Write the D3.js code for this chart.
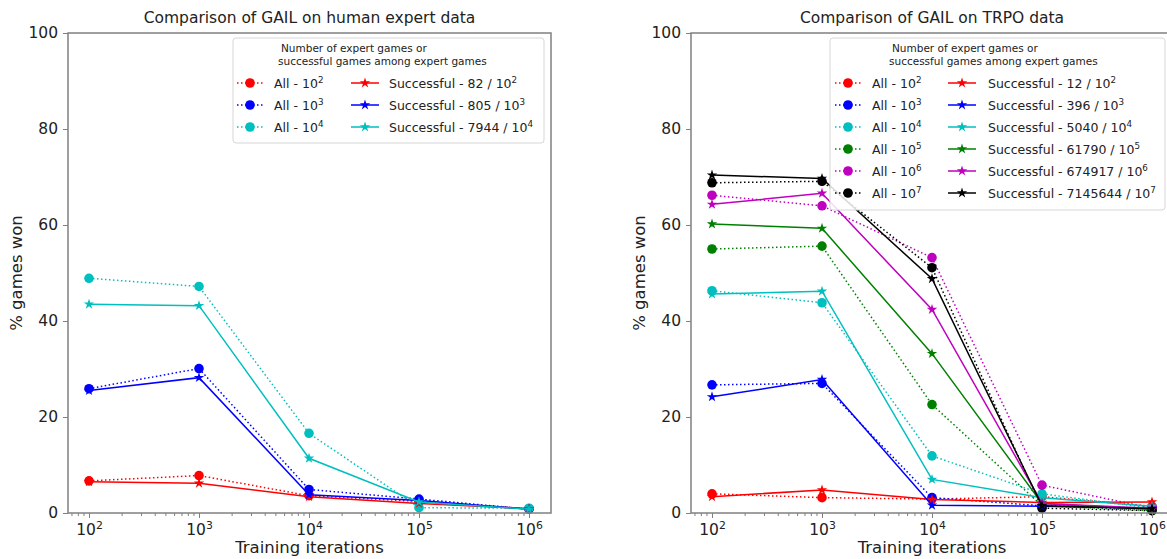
<!DOCTYPE html>
<html>
<head>
<meta charset="utf-8">
<script src="https://cdn.jsdelivr.net/npm/d3@7"></script>
<style>
  body { margin: 0; background: #fff; }
  svg { font-family: "DejaVu Sans", sans-serif; }
</style>
</head>
<body>
<svg id="chart" width="1167" height="559"></svg>
<script>
// x positions (training iterations)
const iterations = [1e2, 1e3, 1e4, 1e5, 1e6];
const yTicks = [0, 20, 40, 60, 80, 100];
const xTickExps = [2, 3, 4, 5, 6];

// left: human expert data
const humanAll2 = [6.7, 7.8, 3.6, 2.4, 0.9];
const humanSucc2 = [6.5, 6.2, 3.4, 2.0, 0.9];
const humanAll3 = [25.9, 30.1, 4.9, 2.9, 0.8];
const humanSucc3 = [25.5, 28.2, 3.8, 2.6, 0.8];
const humanAll4 = [48.9, 47.2, 16.6, 1.1, 1.0];
const humanSucc4 = [43.5, 43.2, 11.4, 2.3, 0.8];

// right: TRPO data
const trpoAll2 = [4.0, 3.2, 2.9, 3.4, 1.4];
const trpoSucc2 = [3.4, 4.8, 2.8, 2.2, 2.3];
const trpoAll3 = [26.7, 27.0, 3.2, 1.5, 1.0];
const trpoSucc3 = [24.2, 27.8, 1.6, 1.4, 1.0];
const trpoAll4 = [46.3, 43.8, 11.9, 4.0, 1.0];
const trpoSucc4 = [45.6, 46.2, 7.0, 3.2, 1.4];
const trpoAll5 = [55.0, 55.6, 22.6, 1.5, 0.5];
const trpoSucc5 = [60.2, 59.3, 33.2, 2.0, 0.8];
const trpoAll6 = [66.2, 64.0, 53.2, 5.8, 1.0];
const trpoSucc6 = [64.3, 66.6, 42.4, 2.0, 1.0];
const trpoAll7 = [68.8, 69.1, 51.1, 1.0, 0.5];
const trpoSucc7 = [70.4, 69.7, 48.8, 1.5, 0.9];

const humanSuccLabels = ["82", "805", "7944"];
const trpoSuccLabels = ["12", "396", "5040", "61790", "674917", "7145644"];
const colors = ["#ff0000", "#0000ff", "#00bfbf", "#008000", "#bf00bf", "#000000"];

const panels = [
  {
    title: "Comparison of GAIL on human expert data",
    left: 68, right: 551,
    all: [humanAll2, humanAll3, humanAll4],
    succ: [humanSucc2, humanSucc3, humanSucc4],
    succLabels: humanSuccLabels,
    legend: { x: 233, y: 38, w: 311, h: 105, titleX: 281, h1: 250, t1: 274, h2: 365, t2: 389 }
  },
  {
    title: "Comparison of GAIL on TRPO data",
    left: 691, right: 1173,
    all: [trpoAll2, trpoAll3, trpoAll4, trpoAll5, trpoAll6, trpoAll7],
    succ: [trpoSucc2, trpoSucc3, trpoSucc4, trpoSucc5, trpoSucc6, trpoSucc7],
    succLabels: trpoSuccLabels,
    legend: { x: 830, y: 38, w: 335, h: 172, titleX: 892, h1: 848, t1: 872, h2: 962, t2: 988 }
  }
];

const plotTop = 33, plotBottom = 513;
const axisColor = "#808080";
const svg = d3.select("#chart");

function supText(sel, base, exp) {
  sel.text(base);
  sel.append("tspan").attr("baseline-shift", "super").attr("font-size", "70%").text(exp);
}

panels.forEach(p => {
  const g = svg.append("g");
  // 10^2 sits 21px inside the left spine, 110px per decade
  const dec = 110;
  const x = d3.scaleLog()
    .domain([Math.pow(10, 2 - 21 / dec), Math.pow(10, 2 + (p.right - p.left - 21) / dec)])
    .range([p.left, p.right]);
  const y = d3.scaleLinear().domain([0, 100]).range([plotBottom, plotTop]);

  const line = d3.line().x((d, i) => x(iterations[i])).y(d => y(d));
  const star = d3.symbol().type(d3.symbolStar).size(34);

  p.all.forEach((vals, k) => {
    g.append("path").datum(vals).attr("d", line)
      .attr("fill", "none").attr("stroke", colors[k]).attr("stroke-width", 1.5)
      .attr("stroke-dasharray", "1.5,2.5");
    g.selectAll(null).data(vals).enter().append("circle")
      .attr("cx", (d, i) => x(iterations[i])).attr("cy", d => y(d))
      .attr("r", 4.8).attr("fill", colors[k]);
  });
  p.succ.forEach((vals, k) => {
    g.append("path").datum(vals).attr("d", line)
      .attr("fill", "none").attr("stroke", colors[k]).attr("stroke-width", 1.5);
    g.selectAll(null).data(vals).enter().append("path")
      .attr("d", star)
      .attr("transform", (d, i) => `translate(${x(iterations[i])},${y(d)})`)
      .attr("fill", colors[k]);
  });

  // frame
  g.append("rect").attr("x", p.left).attr("y", plotTop)
    .attr("width", p.right - p.left).attr("height", plotBottom - plotTop)
    .attr("fill", "none").attr("stroke", axisColor).attr("stroke-width", 1.5);

  // y axis
  const yAxis = g.append("g").attr("transform", `translate(${p.left},0)`)
    .call(d3.axisLeft(y).tickValues(yTicks).tickSize(5).tickPadding(5));
  yAxis.select(".domain").remove();
  yAxis.selectAll("line").attr("stroke", axisColor);
  yAxis.selectAll("text").attr("font-size", 15.5).attr("fill", "#222")
    .attr("font-family", "DejaVu Sans");

  // x axis major
  const xAxis = g.append("g").attr("transform", `translate(0,${plotBottom})`)
    .call(d3.axisBottom(x).tickValues(xTickExps.map(e => Math.pow(10, e))).tickSize(5).tickPadding(6));
  xAxis.select(".domain").remove();
  xAxis.selectAll("line").attr("stroke", axisColor);
  xAxis.selectAll("text").attr("font-size", 15.5).attr("fill", "#222")
    .attr("font-family", "DejaVu Sans")
    .each(function (d) { supText(d3.select(this), "10", Math.round(Math.log10(d))); });

  // x axis minor
  const minor = [];
  for (let e = 1; e <= 6; e++) for (let m = 2; m <= 9; m++) {
    const v = m * Math.pow(10, e);
    if (v > x.domain()[0] && v < x.domain()[1]) minor.push(v);
  }
  g.selectAll(null).data(minor).enter().append("line")
    .attr("x1", d => x(d)).attr("x2", d => x(d))
    .attr("y1", plotBottom).attr("y2", plotBottom + 3)
    .attr("stroke", axisColor).attr("stroke-width", 1);

  // titles
  const cx = (p.left + p.right) / 2;
  g.append("text").attr("x", cx).attr("y", 23).attr("text-anchor", "middle")
    .attr("font-size", 15.5).attr("fill", "#222").text(p.title);
  g.append("text").attr("x", cx).attr("y", 553).attr("text-anchor", "middle")
    .attr("font-size", 16.5).attr("fill", "#222").text("Training iterations");
  g.append("text").attr("transform", `translate(${p.left - 46},${(plotTop + plotBottom) / 2}) rotate(-90)`)
    .attr("text-anchor", "middle").attr("font-size", 16.5).attr("fill", "#222").text("%  games won");

  // legend
  const L = p.legend;
  const lg = g.append("g");
  lg.append("rect").attr("x", L.x).attr("y", L.y).attr("width", L.w).attr("height", L.h)
    .attr("rx", 3).attr("fill", "#fff").attr("fill-opacity", 0.85)
    .attr("stroke", "#d6d6d6").attr("stroke-width", 1);
  lg.append("text").attr("x", L.titleX).attr("y", L.y + 14).attr("font-size", 10.5).attr("fill", "#222")
    .text("Number of expert games or");
  lg.append("text").attr("x", L.titleX - 3).attr("y", L.y + 27).attr("font-size", 10.5).attr("fill", "#222")
    .text("successful games among expert games");
  p.all.forEach((vals, k) => {
    const ry = L.y + 45 + k * 22;
    lg.append("line").attr("x1", L.h1 - 13).attr("x2", L.h1 + 13).attr("y1", ry).attr("y2", ry)
      .attr("stroke", colors[k]).attr("stroke-width", 1.5).attr("stroke-dasharray", "1.5,2.5");
    lg.append("circle").attr("cx", L.h1).attr("cy", ry).attr("r", 4.8).attr("fill", colors[k]);
    supText(lg.append("text").attr("x", L.t1).attr("y", ry + 4.5).attr("font-size", 12.5).attr("fill", "#222"),
      "All - 10", k + 2);
    lg.append("line").attr("x1", L.h2 - 14).attr("x2", L.h2 + 14).attr("y1", ry).attr("y2", ry)
      .attr("stroke", colors[k]).attr("stroke-width", 1.5);
    lg.append("path").attr("d", star).attr("transform", `translate(${L.h2},${ry})`).attr("fill", colors[k]);
    supText(lg.append("text").attr("x", L.t2).attr("y", ry + 4.5).attr("font-size", 12.5).attr("fill", "#222"),
      `Successful - ${p.succLabels[k]} / 10`, k + 2);
  });
});
</script>
</body>
</html>
